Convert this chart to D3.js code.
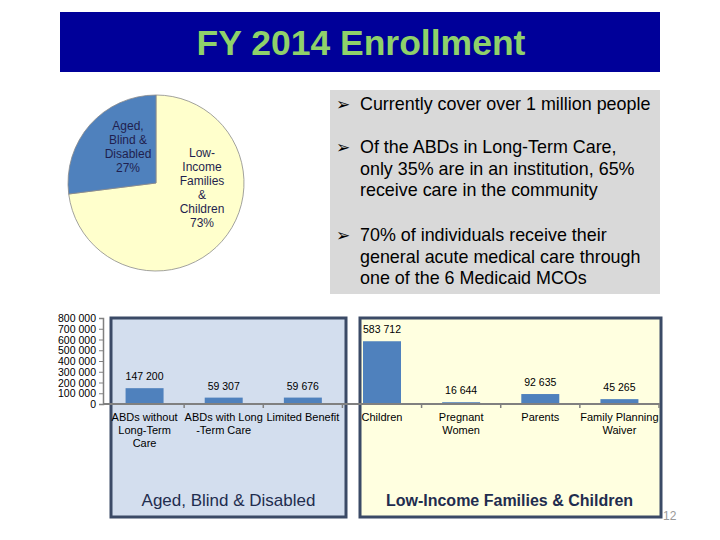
<!DOCTYPE html>
<html><head><meta charset="utf-8">
<script src="https://cdn.jsdelivr.net/npm/d3@7"></script>
<style>body{margin:0;background:#fff}svg{display:block;font-family:"Liberation Sans",Arial,sans-serif}</style>
</head><body><svg id="c" width="720" height="540"></svg>
<script>
const title = "FY 2014 Enrollment";
const pieLabels = [["Low-","Income","Families","&","Children"], ["Aged,","Blind &","Disabled"]];
const pieValues = [73, 27];
const pieColors = ["#FFFFCC", "#4F81BD"];
const bullets = [
  ["Currently cover over 1 million people"],
  ["Of the ABDs in Long-Term Care,", "only 35% are in an institution, 65%", "receive care in the community"],
  ["70% of individuals receive their", "general acute medical care through", "one of the 6 Medicaid MCOs"]
];
const barCategories = ["ABDs without\nLong-Term\nCare", "ABDs with Long\n-Term  Care", "Limited Benefit", "Children", "Pregnant\nWomen", "Parents", "Family Planning\nWaiver"];
const barValues = [147200, 59307, 59676, 583712, 16644, 92635, 45265];
const yTicks = [0, 100000, 200000, 300000, 400000, 500000, 600000, 700000, 800000];
const groupNames = ["Aged, Blind & Disabled", "Low-Income Families & Children"];
const groupSizes = [3, 4];
const pageNumber = "12";

const svg = d3.select("#c");
const fmt = d3.formatLocale({thousands:" ", grouping:[3], decimal:",", currency:["",""]}).format(",d");

// Title bar
svg.append("rect").attr("x",60).attr("y",12).attr("width",600).attr("height",60).attr("fill","#000099");
svg.append("text").attr("x",361).attr("y",55).attr("text-anchor","middle")
  .attr("font-size",35.5).attr("font-weight","bold").attr("fill","#8FD16A").text(title);

// Pie
const cx=156, cy=183, r=88;
const pie = d3.pie().sort(null).value(d=>d)(pieValues);
const arc = d3.arc().innerRadius(0).outerRadius(r);
const pg = svg.append("g").attr("transform",`translate(${cx},${cy})`);
pg.selectAll("path").data(pie).join("path").attr("d",arc)
  .attr("fill",(d,i)=>pieColors[i]).attr("stroke","#8a8a8a").attr("stroke-width",0.8);
const labelPos = [[46,-26],[-28,-53]];
pie.forEach((d,i)=>{
  const lines = pieLabels[i].concat([pieValues[i]+"%"]);
  const t = pg.append("text").attr("text-anchor","middle").attr("font-size",12).attr("fill","#1F1F4F");
  lines.forEach((l,k)=>t.append("tspan").attr("x",labelPos[i][0]).attr("y",labelPos[i][1]+k*14).text(l));
});

// Bullet box
svg.append("rect").attr("x",330).attr("y",90).attr("width",330).attr("height",204).attr("fill","#D9D9D9");
const bulletTop = [110, 153, 241];
bullets.forEach((b,i)=>{
  svg.append("text").attr("x",336).attr("y",bulletTop[i]).attr("font-size",17)
    .attr("font-family","DejaVu Sans").attr("fill","#000").text("\u27A2");
  b.forEach((l,k)=>svg.append("text").attr("x",360).attr("y",bulletTop[i]+k*21.7)
    .attr("font-size",17.9).attr("fill","#000").text(l));
});

// Bar chart
const x = d3.scaleBand().domain(barCategories).range([105,659]).paddingInner(0.52).paddingOuter(0.26);
const y = d3.scaleLinear().domain([0,800000]).range([404,318]);

// Panels
const panelColors = ["#D3DEEE", "#FFFFE0"];
const panelX = [[111,346],[360,661]];
const captionWeights = ["normal","bold"];
const captionSizes = [17, 16];
groupNames.forEach((g,i)=>{
  svg.append("rect").attr("x",panelX[i][0]).attr("y",318).attr("width",panelX[i][1]-panelX[i][0]).attr("height",199)
    .attr("fill",panelColors[i]).attr("stroke","#3B4A66").attr("stroke-width",3);
  svg.append("text").attr("x",(panelX[i][0]+panelX[i][1])/2 - (i?1:0)).attr("y",506).attr("text-anchor","middle")
    .attr("font-size",captionSizes[i]).attr("font-weight",captionWeights[i]).attr("fill","#1F2D4F").text(g);
});

// Y axis
const yAxis = d3.axisLeft(y).tickValues(yTicks).tickFormat(fmt).tickSize(4).tickPadding(3);
const ya = svg.append("g").attr("transform","translate(103,0)").call(yAxis);
ya.select(".domain").attr("stroke","#808080").attr("stroke-width",1.5);
ya.selectAll(".tick line").attr("stroke","#808080");
ya.selectAll(".tick text").attr("font-size",10.5).attr("fill","#000")
  .attr("font-family","'Liberation Sans',Arial,sans-serif").attr("dy","0.35em");

// Bars
svg.selectAll("rect.bar").data(barValues).join("rect").attr("class","bar")
  .attr("x",(d,i)=>x(barCategories[i])).attr("width",x.bandwidth())
  .attr("y",d=>y(d)).attr("height",d=>y(0)-y(d)).attr("fill","#4F81BD");
svg.selectAll("text.val").data(barValues).join("text").attr("class","val")
  .attr("x",(d,i)=>x(barCategories[i])+x.bandwidth()/2).attr("y",d=>y(d)-8)
  .attr("text-anchor","middle").attr("font-size",10.5).attr("fill","#000").text(d=>fmt(d));

// X axis
svg.append("line").attr("x1",103).attr("x2",660).attr("y1",y(0)).attr("y2",y(0)).attr("stroke","#808080").attr("stroke-width",2);
const step = x.step();
svg.selectAll("line.xt").data(barCategories).join("line").attr("class","xt")
  .attr("x1",d=>x(d)+x.bandwidth()/2+step/2).attr("x2",d=>x(d)+x.bandwidth()/2+step/2)
  .attr("y1",y(0)).attr("y2",y(0)+4).attr("stroke","#808080").attr("stroke-width",1.5);
barCategories.forEach(c=>{
  const t = svg.append("text").attr("text-anchor","middle").attr("font-size",11).attr("fill","#000");
  c.split("\n").forEach((l,k)=>t.append("tspan").attr("x",x(c)+x.bandwidth()/2).attr("y",421+k*13).text(l));
});

svg.append("text").attr("x",663).attr("y",520).attr("font-size",12).attr("fill","#999").text(pageNumber);
</script></body></html>
